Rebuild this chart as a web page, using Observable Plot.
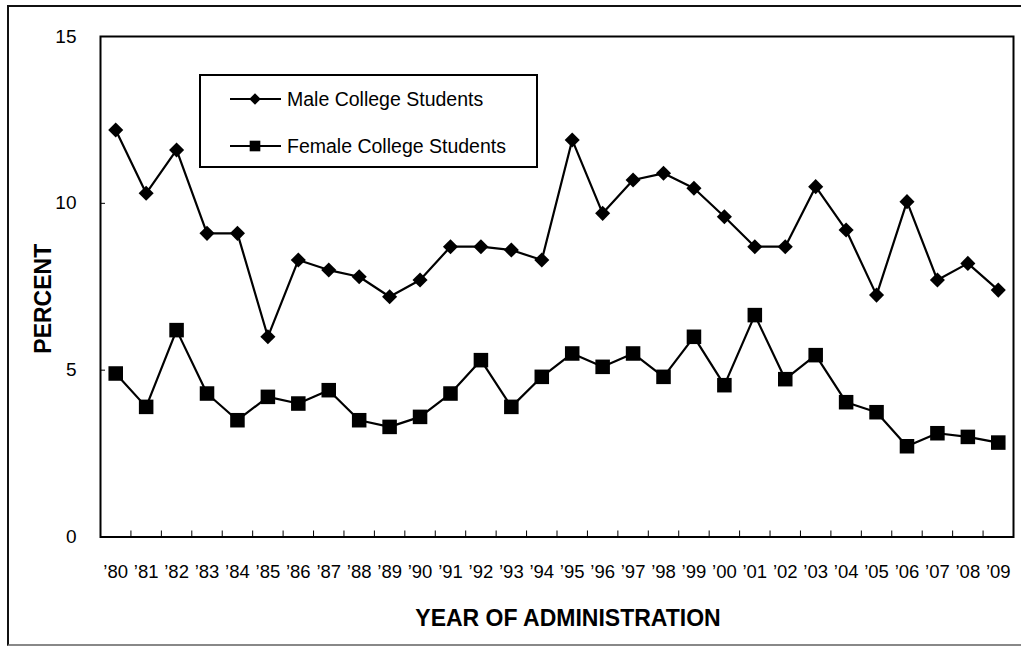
<!DOCTYPE html>
<html>
<head>
<meta charset="utf-8">
<script src="https://cdn.jsdelivr.net/npm/d3@7"></script>
<script src="https://cdn.jsdelivr.net/npm/@observablehq/plot@0.6"></script>
<style>
  html, body { margin: 0; padding: 0; background: #fff; }
  #wrap { position: relative; width: 1021px; height: 648px; overflow: hidden; background: #fff; font-family: "Liberation Sans", Arial, sans-serif; }
  #outer { position: absolute; left: 7px; top: 5px; width: 1020px; height: 641px; border-left: 2px solid #111; border-top: 2px solid #111; border-bottom: 2px solid #888; box-sizing: border-box; }
  #chart { position: absolute; left: 0; top: 0; }
  #legend { position: absolute; left: 199px; top: 74px; width: 339px; height: 94px; border: 2px solid #000; box-sizing: border-box; background: #fff; }
</style>
</head>
<body>
<div id="wrap">
  <div id="outer"></div>
  <div id="chart"></div>
  <div id="legend"></div>
</div>
<script>
// ---- data ----
const years = ["’80","’81","’82","’83","’84","’85","’86","’87","’88","’89",
               "’90","’91","’92","’93","’94","’95","’96","’97","’98","’99",
               "’00","’01","’02","’03","’04","’05","’06","’07","’08","’09"];
const male = [12.2, 10.3, 11.6, 9.1, 9.1, 6.0, 8.3, 8.0, 7.8, 7.2,
              7.7, 8.7, 8.7, 8.6, 8.3, 11.9, 9.7, 10.7, 10.9, 10.45,
              9.6, 8.7, 8.7, 10.5, 9.2, 7.25, 10.05, 7.7, 8.2, 7.4];
const female = [4.9, 3.9, 6.2, 4.3, 3.5, 4.2, 4.0, 4.4, 3.5, 3.3,
                3.6, 4.3, 5.3, 3.9, 4.8, 5.5, 5.1, 5.5, 4.8, 6.0,
                4.55, 6.65, 4.73, 5.45, 4.04, 3.74, 2.72, 3.11, 3.0, 2.83];
const seriesNames = ["Male College Students", "Female College Students"];
const seriesSymbols = ["diamond2", "square"];
const yTicks = [0, 5, 10, 15];
const yTitle = "PERCENT";
const xTitle = "YEAR OF ADMINISTRATION";

// ---- build table ----
const rows = [];
[male, female].forEach((vals, s) => {
  vals.forEach((v, i) => rows.push({ i, year: years[i], value: v, series: seriesNames[s] }));
});
const xPos = d => d.i + 0.5;

const font = "'Liberation Sans', Arial, sans-serif";

const chart = Plot.plot({
  width: 1021,
  height: 648,
  marginLeft: 100,
  marginRight: 8,
  marginTop: 36,
  marginBottom: 111.5,
  x: { type: "linear", domain: [0, years.length] },
  y: { domain: [0, 15] },
  symbol: { domain: seriesNames, range: seriesSymbols },
  style: { fontFamily: font, fontSize: "19px", color: "#000", background: "transparent", overflow: "visible" },
  marks: [
    Plot.frame({ stroke: "#000", strokeWidth: 2 }),
    Plot.axisY({ ticks: yTicks, tickSize: 5, dx: 5, tickPadding: 24, label: null, fontSize: 19, strokeWidth: 1 }),
    Plot.axisX({ ticks: d3.range(1, years.length), tickSize: 6, dy: -6, tickFormat: () => "", label: null, strokeWidth: 1 }),
    Plot.axisX({ ticks: d3.range(years.length).map(i => i + 0.5), tickSize: 0, tickPadding: 28,
                 tickFormat: v => years[Math.floor(v)], label: null, fontSize: 18.5 }),
    Plot.line(rows, { x: xPos, y: "value", z: "series", stroke: "#000", strokeWidth: 2.2 }),
    Plot.dot(rows.filter(d => d.series === seriesNames[0]), { x: xPos, y: "value", symbol: "series", r: 6.8, fill: "#000", stroke: "none" }),
    Plot.dot(rows.filter(d => d.series === seriesNames[1]), { x: xPos, y: "value", symbol: "series", r: 8.2, fill: "#000", stroke: "none" }),
    Plot.text([yTitle], { text: d => d, frameAnchor: "left", textAnchor: "middle", lineAnchor: "middle", dx: -57, dy: 12, rotate: -90, fontWeight: "bold", fontSize: 23, fill: "#000" }),
    Plot.text([xTitle], { text: d => d, frameAnchor: "bottom", textAnchor: "middle", lineAnchor: "middle", dx: 11, dy: 82, fontWeight: "bold", fontSize: 23, fill: "#000" })
  ]
});
document.getElementById("chart").appendChild(chart);

// ---- legend ----
const lg = d3.select("#legend").append("svg").attr("width", 335).attr("height", 90)
  .style("position", "absolute").style("left", "0px").style("top", "0px");
const rowY = [23, 70];
seriesNames.forEach((name, k) => {
  const g = lg.append("g").attr("transform", `translate(0,${rowY[k]})`);
  g.append("line").attr("x1", 29).attr("x2", 80).attr("y1", 0).attr("y2", 0)
    .attr("stroke", "#000").attr("stroke-width", 2.2);
  const sym = k === 0 ? d3.symbolDiamond2 : d3.symbolSquare;
  const r = k === 0 ? 5.2 : 6;
  g.append("path").attr("transform", "translate(54,0)")
    .attr("d", d3.symbol(sym, Math.PI * r * r)()).attr("fill", "#000");
  g.append("text").attr("x", 86).attr("y", 0).attr("dy", "0.35em")
    .attr("font-family", font).attr("font-size", 19.5).attr("fill", "#000").text(name);
});
</script>
</body>
</html>
